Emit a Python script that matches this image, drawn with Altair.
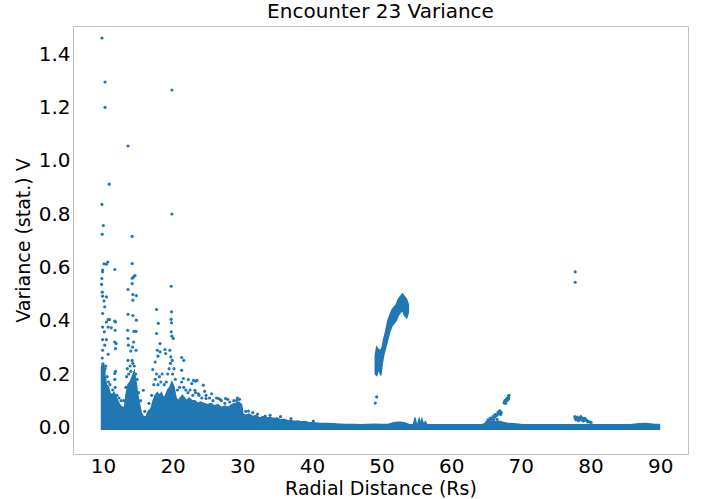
import altair as alt
import pandas as pd

BLUE = "#1f77b4"

# Dense cloud upper envelope (x in Rs, variance)
env_x = [9.8, 9.9, 10.1, 10.3, 10.5, 10.8, 11.0, 11.3, 11.6, 11.8, 12.1, 12.4, 12.8, 13.1, 13.3, 13.6,
         13.9, 14.2, 14.5, 14.8, 15.0, 15.3, 15.5, 15.8, 16.2, 16.5, 16.9, 17.2, 17.5, 17.8, 18.1, 18.4,
         18.7, 19.0, 19.3, 19.6, 19.9, 20.2, 20.5, 20.8, 21.1, 21.4, 21.7, 22.0, 22.4, 22.8, 23.2, 23.6,
         24.0, 24.5, 25.0, 25.5, 26.0, 26.5, 27.0, 27.5, 28.0, 28.5, 29.0, 29.5, 29.9, 30.1, 30.5, 31.0,
         31.5, 32.0, 32.5, 33.0, 33.5, 34.0, 34.5, 35.0, 35.5, 36.0, 36.5, 37.0, 37.5, 38.0, 38.5, 39.0,
         39.5, 40.0, 41.0, 42.0, 43.0, 44.0, 45.0, 46.0, 47.0, 48.0, 49.0, 50.0, 51.0, 51.5, 52.0, 52.5,
         53.0, 53.5, 54.0, 54.6, 54.8, 55.0, 55.2, 55.4, 55.6, 55.8, 56.0, 56.3, 56.5, 58.0, 60.0, 62.0,
         64.0, 64.5, 65.0, 65.5, 66.0, 66.5, 67.0, 67.5, 68.0, 69.0, 70.0, 72.0, 75.0, 78.0, 81.0, 84.0,
         86.0, 87.0, 88.0, 89.0, 89.9]
env_hi = [0.22, 0.24, 0.24, 0.19, 0.16, 0.15, 0.13, 0.12, 0.13, 0.12, 0.10, 0.085, 0.075, 0.075, 0.12, 0.16,
          0.17, 0.19, 0.21, 0.16, 0.12, 0.08, 0.055, 0.04, 0.04, 0.06, 0.07, 0.10, 0.12, 0.13, 0.12, 0.13,
          0.11, 0.12, 0.14, 0.15, 0.17, 0.15, 0.11, 0.10, 0.11, 0.12, 0.11, 0.10, 0.11, 0.10, 0.10, 0.09,
          0.095, 0.09, 0.085, 0.09, 0.08, 0.085, 0.075, 0.08, 0.075, 0.085, 0.09, 0.095, 0.085, 0.05, 0.045, 0.05,
          0.04, 0.045, 0.035, 0.04, 0.035, 0.037, 0.033, 0.035, 0.028, 0.03, 0.025, 0.026, 0.022, 0.024, 0.02, 0.022,
          0.018, 0.017, 0.015, 0.014, 0.013, 0.012, 0.011, 0.011, 0.010, 0.011, 0.012, 0.011, 0.012, 0.015, 0.018, 0.019,
          0.018, 0.015, 0.010, 0.011, 0.036, 0.013, 0.012, 0.031, 0.013, 0.031, 0.013, 0.021, 0.010, 0.010, 0.010, 0.010,
          0.010, 0.011, 0.014, 0.017, 0.020, 0.023, 0.022, 0.018, 0.015, 0.013, 0.011, 0.010, 0.010, 0.010, 0.010, 0.010,
          0.011, 0.013, 0.014, 0.012, 0.011]

# Rising arc segment near 49-54 Rs
arc_x = [49.1, 49.3, 49.6, 49.9, 50.1, 50.3, 50.6, 50.9, 51.2, 51.5, 51.8, 52.1, 52.4, 52.7, 53.0, 53.3, 53.6, 53.85]
arc_lo = [0.20, 0.195, 0.22, 0.195, 0.24, 0.27, 0.30, 0.33, 0.36, 0.38, 0.39, 0.40, 0.42, 0.43, 0.44, 0.42, 0.41, 0.43]
arc_hi = [0.27, 0.30, 0.29, 0.29, 0.30, 0.33, 0.36, 0.40, 0.42, 0.44, 0.45, 0.46, 0.48, 0.49, 0.50, 0.49, 0.48, 0.46]

# Sparse scattered points
pt_x = [9.86, 10.3, 10.3, 13.6, 10.9, 9.85, 10.05, 9.9, 14.2, 19.9, 19.9,
        10.7, 10.15, 10.5, 14.2, 9.95, 9.95, 11.7, 9.85, 14.2, 14.4, 14.6, 9.8, 14.2, 19.8, 13.6,
        9.9, 9.95, 10.5, 10.15, 10.25, 9.95, 14.3, 14.8, 14.3, 13.6, 14.3, 14.8, 17.7, 19.85, 17.95,
        19.8, 19.85, 17.7, 19.8, 19.9, 20.1, 18.2, 18.9,
        10.75, 10.95, 11.7, 11.8, 10.5, 9.95, 10.75, 11.2, 10.2, 11.75, 9.95, 10.5, 11.7, 11.9, 10.25,
        9.95, 10.75, 11.8,
        13.55, 13.6, 14.45, 14.75, 13.65, 14.0, 14.4, 14.25, 14.75, 13.6, 14.2,
        17.8, 17.9, 18.2, 19.0, 19.6, 19.75, 19.95, 21.3, 21.6, 21.3, 21.55, 22.25, 17.15, 17.5, 22.75,
        23.3, 24.4, 23.7, 11.7, 10.3, 15.8, 24.6, 25.6, 24.8, 26.8, 27.9, 29.2, 30.9, 32.2, 33.3, 40.2,
        23.0, 23.5, 23.2, 26.6, 27.6,
        49.3, 49.1, 77.8, 77.8,
        9.9, 10.0, 10.2, 10.4, 10.6, 10.1, 10.8, 11.0, 11.4, 11.7, 11.75, 11.8, 12.0, 12.3, 12.6, 13.0,
        13.3, 13.4, 13.5, 13.7, 13.9, 14.0, 14.3, 14.5, 14.7, 14.9, 15.1, 15.4, 16.0, 16.6, 17.0, 17.3,
        17.5, 17.7, 17.9, 18.1, 18.3, 18.5, 18.8, 19.1, 19.3, 19.5, 19.7, 20.0, 20.2, 20.4, 20.7, 21.0,
        21.3, 21.6, 21.9, 22.2, 22.5, 22.9, 23.3, 23.8, 24.2, 24.8, 25.3, 25.8, 26.3, 27.0, 27.5, 28.2,
        28.8, 29.3, 29.6, 30.5, 31.5, 34.0, 35.5, 37.0,
        64.9, 65.1, 65.3, 65.5, 65.6, 65.8, 66.0, 66.2, 66.3, 66.5, 66.7, 66.8, 67.0, 67.2, 65.4, 66.0, 66.6,
        65.2, 65.7, 66.1, 66.4, 66.9, 67.1,
        67.6, 67.7, 67.8, 67.9, 68.0, 68.1, 68.2, 68.3, 68.2, 67.8, 68.25, 67.65, 67.95, 68.05,
        77.8, 77.9, 78.1, 78.2, 78.4, 78.6, 78.7, 78.9, 79.1, 79.3, 79.5, 79.7, 79.9, 80.1, 78.3, 79.0,
        77.75, 78.0, 78.5, 78.8, 79.2, 79.6]
pt_y = [1.46, 1.295, 1.20, 1.055, 0.912, 0.836, 0.757, 0.724, 0.716, 1.265, 0.80,
        0.62, 0.613, 0.612, 0.614, 0.59, 0.583, 0.592, 0.558, 0.559, 0.564, 0.569, 0.536, 0.539, 0.529, 0.517,
        0.507, 0.492, 0.489, 0.474, 0.452, 0.427, 0.498, 0.494, 0.477, 0.424, 0.419, 0.402, 0.442, 0.433, 0.390,
        0.405, 0.392, 0.352, 0.358, 0.342, 0.333, 0.314, 0.292,
        0.404, 0.404, 0.398, 0.395, 0.395, 0.376, 0.376, 0.373, 0.358, 0.364, 0.329, 0.329, 0.320, 0.314, 0.308,
        0.289, 0.274, 0.295,
        0.364, 0.333, 0.36, 0.36, 0.308, 0.286, 0.32, 0.301, 0.289, 0.251, 0.251,
        0.289, 0.267, 0.283, 0.277, 0.289, 0.264, 0.251, 0.262, 0.251, 0.214, 0.183, 0.179, 0.217, 0.245, 0.164,
        0.173, 0.158, 0.126, 0.202, 0.22, 0.139, 0.135, 0.126, 0.108, 0.105, 0.105, 0.101, 0.061, 0.050, 0.042, 0.023,
        0.176, 0.176, 0.139, 0.108, 0.108,
        0.114, 0.091, 0.583, 0.544,
        0.26, 0.20, 0.21, 0.23, 0.19, 0.17, 0.17, 0.16, 0.14, 0.18, 0.15, 0.21, 0.12, 0.11, 0.10, 0.10,
        0.15, 0.19, 0.22, 0.20, 0.23, 0.21, 0.24, 0.23, 0.20, 0.18, 0.13, 0.10, 0.06, 0.09, 0.12, 0.16,
        0.18, 0.20, 0.16, 0.19, 0.17, 0.20, 0.16, 0.17, 0.20, 0.22, 0.24, 0.20, 0.22, 0.18, 0.14, 0.15,
        0.17, 0.15, 0.14, 0.13, 0.14, 0.12, 0.13, 0.12, 0.11, 0.12, 0.11, 0.10, 0.11, 0.10, 0.09, 0.095,
        0.10, 0.11, 0.105, 0.06, 0.055, 0.045, 0.04, 0.033,
        0.012, 0.020, 0.028, 0.025, 0.035, 0.030, 0.040, 0.038, 0.048, 0.045, 0.055, 0.050, 0.062, 0.055, 0.015, 0.022, 0.030,
        0.018, 0.032, 0.030, 0.042, 0.060, 0.048,
        0.092, 0.100, 0.097, 0.105, 0.100, 0.110, 0.115, 0.120, 0.105, 0.090, 0.112, 0.095, 0.102, 0.108,
        0.035, 0.028, 0.038, 0.030, 0.033, 0.040, 0.030, 0.035, 0.030, 0.028, 0.025, 0.022, 0.020, 0.018, 0.025, 0.024,
        0.040, 0.033, 0.036, 0.027, 0.034, 0.020]

x_ticks = [10, 20, 30, 40, 50, 60, 70, 80, 90]
y_ticks = [0.0, 0.2, 0.4, 0.6, 0.8, 1.0, 1.2, 1.4]

FLOOR = -0.007

env_df = pd.DataFrame({"x": env_x, "hi": env_hi, "lo": [FLOOR] * len(env_x)})
arc_df = pd.DataFrame({"x": arc_x, "lo": arc_lo, "hi": arc_hi})
pt_df = pd.DataFrame({"x": pt_x, "y": pt_y})

xscale = alt.Scale(domain=[5.7, 94.0], nice=False, zero=False)
yscale = alt.Scale(domain=[-0.1, 1.505], nice=False, zero=False)

xaxis = alt.Axis(values=x_ticks, title="Radial Distance (Rs)", format="d",
                 labelPadding=2, titlePadding=3)
yaxis = alt.Axis(values=y_ticks, title="Variance (stat.) V", format=".1f",
                 labelPadding=3, titlePadding=5)

env = alt.Chart(env_df).mark_area(color=BLUE, opacity=1, stroke=BLUE, strokeWidth=1.5).encode(
    x=alt.X("x:Q", scale=xscale, axis=xaxis),
    y=alt.Y("hi:Q", scale=yscale, axis=yaxis),
    y2="lo:Q",
)

arc = alt.Chart(arc_df).mark_area(color=BLUE, opacity=1, stroke=BLUE, strokeWidth=1.5).encode(
    x=alt.X("x:Q", scale=xscale),
    y=alt.Y("hi:Q", scale=yscale),
    y2="lo:Q",
)

pts = alt.Chart(pt_df).mark_circle(color=BLUE, opacity=1, size=10).encode(
    x=alt.X("x:Q", scale=xscale),
    y=alt.Y("y:Q", scale=yscale),
)

chart = alt.layer(env, arc, pts).properties(
    width=615,
    height=428,
    title=alt.TitleParams("Encounter 23 Variance", fontSize=20, font="DejaVu Sans",
                          fontWeight="normal", color="black", offset=4),
    autosize=alt.AutoSizeParams(type="none"),
    padding={"left": 73, "top": 26, "right": 13, "bottom": 45},
).configure_view(
    stroke="#bfbfbf", strokeWidth=1
).configure_axis(
    grid=False, ticks=False, domain=False,
    labelFont="DejaVu Sans", titleFont="DejaVu Sans",
    labelFontSize=20, titleFontSize=19,
    labelColor="black", titleColor="black", titleFontWeight="normal",
)

chart.save("out.html", embed_options={"renderer": "svg", "actions": False})
